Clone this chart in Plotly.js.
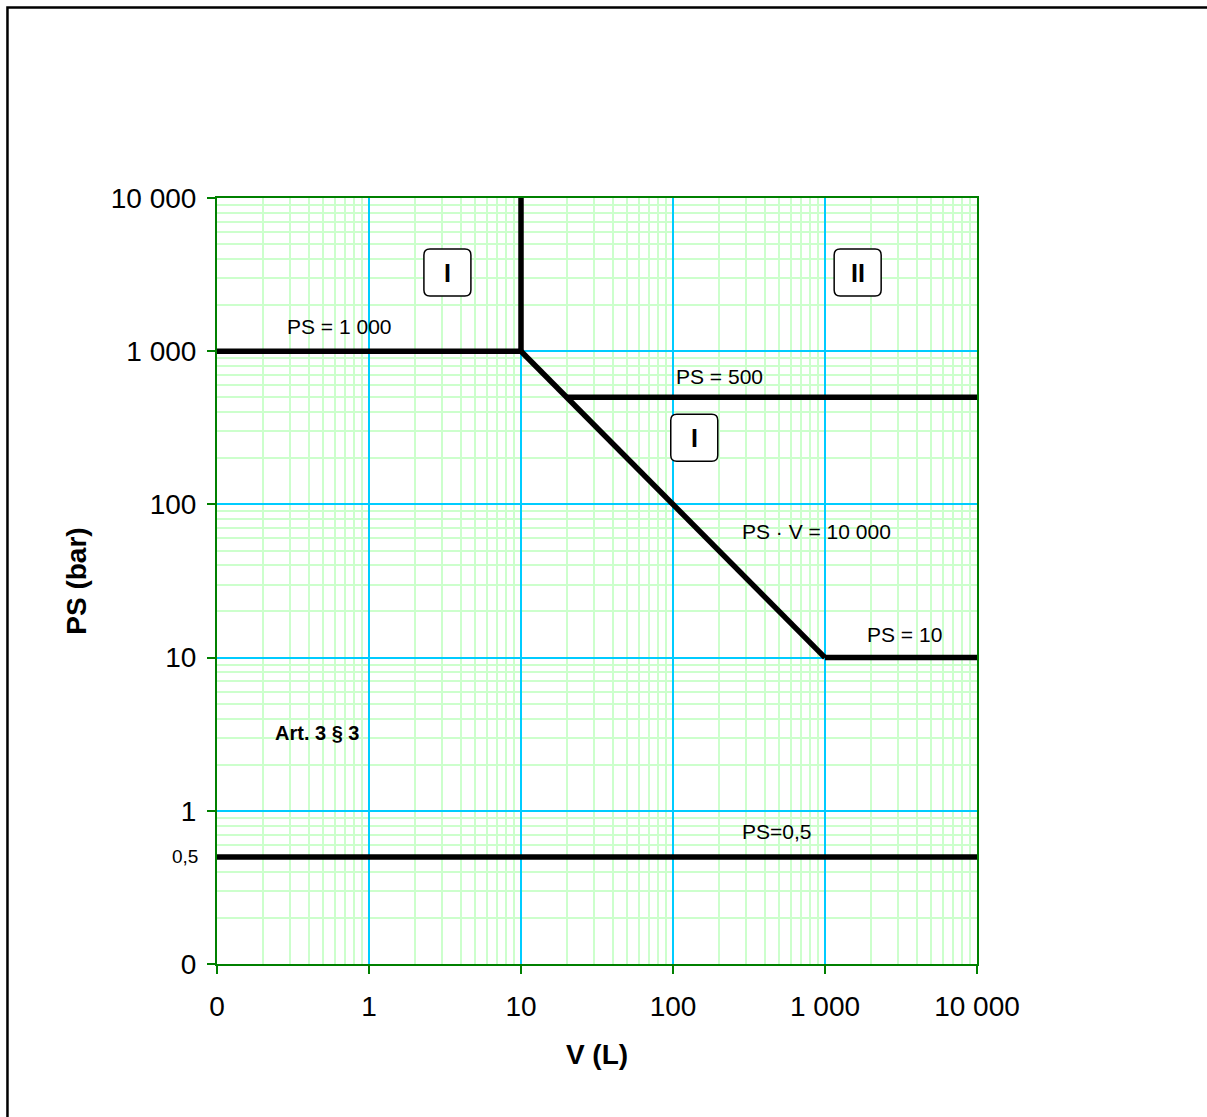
<!DOCTYPE html>
<html>
<head>
<meta charset="utf-8">
<script src="https://cdn.plot.ly/plotly-3.0.1.min.js"></script>
<style>html,body{margin:0;padding:0;background:#fff;overflow:hidden}</style>
</head>
<body>
<div id="chart" style="width:1207px;height:1117px"></div>
<script>
// Axis ticks
var tickVals = [0.1, 1, 10, 100, 1000, 10000];
var tickText = ["0", "1", "10", "100", "1 000", "10 000"];

// Boundary lines (V in L, PS in bar)
var ps1000V = [0.1, 10];
var ps1000P = [1000, 1000];
var v10V = [10, 10];
var v10P = [1000, 10000];
var psvV = [10, 1000];
var psvP = [1000, 10];
var ps500V = [20, 10000];
var ps500P = [500, 500];
var ps10V = [1000, 10000];
var ps10P = [10, 10];
var ps05V = [0.1, 10000];
var ps05P = [0.5, 0.5];

// Labels: [text, V, PS]
var lineLabels = [
  ["PS = 1 000", 0.644, 1440],
  ["PS = 500", 201, 679],
  ["PS · V = 10 000", 873, 67],
  ["PS = 10", 3357, 14.1],
  ["PS=0,5", 476, 0.728]
];
var boldLabels = [["Art. 3 § 3", 0.455, 3.22]];
var categoryBoxes = [
  ["I", 3.28, 3260],
  ["II", 1640, 3260],
  ["I", 138, 272]
];

var lineStyle = {color: "#000000", width: 5.5};
function seg(x, y) {
  return {x: x, y: y, type: "scatter", mode: "lines", line: lineStyle, hoverinfo: "skip", showlegend: false};
}
var traces = [
  seg(ps1000V, ps1000P), seg(v10V, v10P), seg(psvV, psvP),
  seg(ps500V, ps500P), seg(ps10V, ps10P), seg(ps05V, ps05P)
];

var F = "Liberation Sans, Arial, sans-serif";
var annotations = [];
lineLabels.forEach(function (l) {
  annotations.push({text: l[0], x: Math.log10(l[1]), y: Math.log10(l[2]), xref: "x", yref: "y",
    showarrow: false, font: {family: F, size: 21, color: "#000"}});
});
boldLabels.forEach(function (l) {
  annotations.push({text: "<b>" + l[0] + "</b>", x: Math.log10(l[1]), y: Math.log10(l[2]), xref: "x", yref: "y",
    showarrow: false, font: {family: F, size: 20, color: "#000"}});
});
var shapes = [];
var h = 23.5, r = 6;
var roundPath = "M " + (-h) + "," + (-h + r) + " L " + (-h) + "," + (h - r) +
  " Q " + (-h) + "," + h + " " + (-h + r) + "," + h +
  " L " + (h - r) + "," + h + " Q " + h + "," + h + " " + h + "," + (h - r) +
  " L " + h + "," + (-h + r) + " Q " + h + "," + (-h) + " " + (h - r) + "," + (-h) +
  " L " + (-h + r) + "," + (-h) + " Q " + (-h) + "," + (-h) + " " + (-h) + "," + (-h + r) + " Z";
categoryBoxes.forEach(function (b) {
  shapes.push({type: "path", xref: "x", yref: "y", xsizemode: "pixel", ysizemode: "pixel",
    xanchor: b[1], yanchor: b[2], path: roundPath,
    line: {color: "#000", width: 1.5}, fillcolor: "#fff", layer: "above"});
  annotations.push({text: "<b>" + b[0] + "</b>", x: Math.log10(b[1]), y: Math.log10(b[2]), xref: "x", yref: "y",
    showarrow: false, font: {family: F, size: 25, color: "#000"}});
});
annotations.push({text: "0,5", x: -0.022, xref: "paper", xanchor: "right", y: Math.log10(0.5), yref: "y",
  showarrow: false, font: {family: F, size: 19, color: "#000"}});

shapes.push({type: "rect", xref: "paper", yref: "paper", x0: -0.2757, x1: 1.36, y0: -0.22, y1: 1.2487,
  line: {color: "#000", width: 2.5}, fillcolor: "rgba(0,0,0,0)", layer: "above"});

var axisCommon = {
  type: "log",
  range: [-1, 4],
  tickmode: "array",
  tickvals: tickVals,
  ticktext: tickText,
  ticks: "outside",
  ticklen: 8,
  tickwidth: 2,
  tickcolor: "#008000",
  showline: true,
  linecolor: "#008000",
  linewidth: 2,
  mirror: true,
  showgrid: true,
  gridcolor: "#00ccff",
  gridwidth: 2,
  zeroline: false,
  tickfont: {family: F, size: 28, color: "#000"},
  minor: {dtick: "D1", showgrid: true, gridcolor: "#ccffcc", gridwidth: 2, ticks: ""}
};

var layout = {
  width: 1207,
  height: 1117,
  margin: {l: 217, r: 230, t: 198, b: 153},
  paper_bgcolor: "#fff",
  plot_bgcolor: "#fff",
  showlegend: false,
  xaxis: Object.assign({}, axisCommon, {
    ticklabelstandoff: 8,
    title: {text: "<b>V (L)</b>", font: {family: F, size: 28, color: "#000"}, standoff: 24}
  }),
  yaxis: Object.assign({}, axisCommon, {
    ticklabelstandoff: 5,
    title: {text: "<b>PS (bar)</b>", font: {family: F, size: 28, color: "#000"}, standoff: 16}
  }),
  annotations: annotations,
  shapes: shapes
};

Plotly.newPlot("chart", traces, layout, {staticPlot: true, displayModeBar: false});
</script>
</body>
</html>
